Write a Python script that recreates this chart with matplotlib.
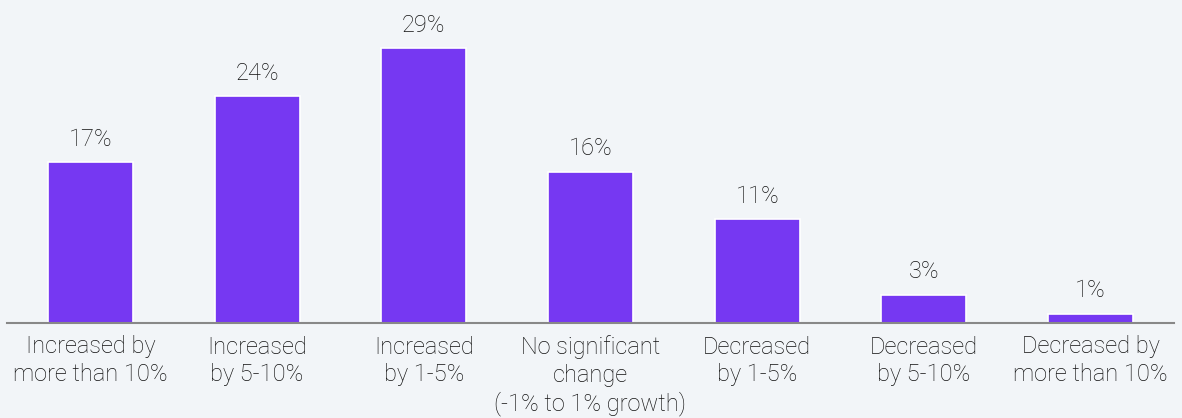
import matplotlib
matplotlib.use("Agg")
import matplotlib.pyplot as plt

categories = ["Increased by\nmore than 10%", "Increased\nby 5-10%", "Increased\nby 1-5%",
              "No significant\nchange\n(-1% to 1% growth)", "Decreased\nby 1-5%",
              "Decreased\nby 5-10%", "Decreased by\nmore than 10%"]
values = [17, 24, 29, 16, 11, 3, 1]
labels = ["17%", "24%", "29%", "16%", "11%", "3%", "1%"]

BG = "#F2F5F8"
BAR = "#7638F2"
TXT = "#111111"

plt.rcParams['font.family'] = ['Roboto', 'DejaVu Sans']

fig = plt.figure(figsize=(11.82, 4.18), dpi=100, facecolor=BG)
ax = fig.add_axes([7/1182, (418-323)/418, 1167/1182, 303/418])
ax.set_facecolor(BG)

x = list(range(len(values)))
bars = ax.bar(x, values, width=0.51, color=BAR, edgecolor="white", linewidth=1.2, zorder=2)
ax.set_xlim(-0.5, len(values) - 0.5)
ax.set_ylim(0, 32)

for xi, v, lab in zip(x, values, labels):
    ax.annotate(lab, (xi, v), xytext=(0, 8), textcoords="offset points",
                ha="center", va="bottom", fontsize=17, color=TXT,
                fontweight="light", annotation_clip=False)

ax.set_xticks(x)
ax.set_xticklabels(categories, fontsize=17, color=TXT, fontweight="light", linespacing=1.25)
ax.tick_params(axis="x", length=0, pad=9)
ax.set_yticks([])
for s in ["top", "right", "left"]:
    ax.spines[s].set_visible(False)
ax.spines["bottom"].set_color("#888888")
ax.spines["bottom"].set_linewidth(1.5)
ax.spines["bottom"].set_zorder(3)

fig.savefig("out.png", dpi=100, facecolor=BG)
